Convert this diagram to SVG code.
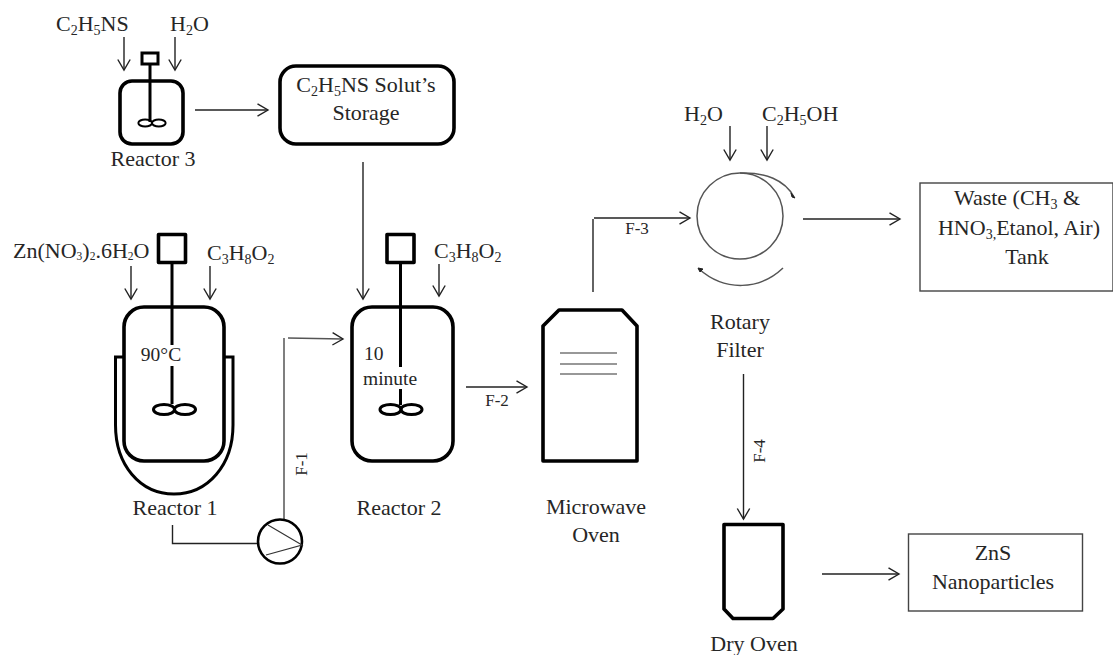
<svg xmlns="http://www.w3.org/2000/svg" width="1113" height="655" viewBox="0 0 1113 655">
<style>
text{font-family:"Liberation Serif","Times New Roman",serif;font-size:22px;fill:#262626}
.m{text-anchor:middle}
.s{font-size:14px}
.t{font-size:11.500px}
.f{font-size:17px}
.n{font-size:19.500px}
.v{fill:none;stroke:#000;stroke-width:3.6;stroke-linejoin:round}
.w{fill:none;stroke:#000;stroke-width:3}
.c{fill:none;stroke:#222;stroke-width:1.4}
.a{marker-end:url(#h)}
.g{fill:none;stroke:#555;stroke-width:1.5}
.p{fill:none;stroke:#000;stroke-width:3}
</style>
<defs>
<marker id="h" markerUnits="userSpaceOnUse" markerWidth="14" markerHeight="16" refX="12" refY="7" orient="auto">
<path d="M1.500 0.800L12 7L1.500 13.200" fill="none" stroke="#222" stroke-width="1.4"/>
</marker>
<g id="paddle"><ellipse cx="-10.500" cy="0" rx="10.500" ry="5"/><ellipse cx="10.500" cy="0" rx="10.500" ry="5"/></g>
</defs>
<g id="connectors">
<path class="c a" d="M124 37V70"/>
<path class="c a" d="M175 37V70"/>
<path class="c a" d="M195 110H268"/>
<path class="c a" d="M363 162V299"/>
<path class="c a" d="M131 266V299"/>
<path class="c a" d="M210 266V299"/>
<path class="c a" d="M439 264V296"/>
<path class="c" d="M172.500 525V543.500H258"/>
<path class="g" d="M284 519V338"/>
<path class="g a" d="M288 338L343 339"/>
<path class="c a" d="M466 387H527"/>
<path class="c" d="M593 292V219"/>
<path class="c a" d="M594 218H690"/>
<path class="c a" d="M730 126V160"/>
<path class="c a" d="M767 126V160"/>
<path class="c a" d="M803 219H900"/>
<path class="c a" d="M743.500 374V519"/>
<path class="c a" d="M822 574H899"/>
</g>
<g id="c2h5ns-feed"><text x="56" y="31">C<tspan class="s" dy="4">2</tspan><tspan dy="-4">H</tspan><tspan class="s" dy="4">5</tspan><tspan dy="-4">NS</tspan></text></g>
<g id="h2o-feed"><text x="170" y="31">H<tspan class="s" dy="4">2</tspan><tspan dy="-4">O</tspan></text></g>
<g id="reactor-3">
<rect class="w" x="142" y="53" width="16" height="11"/>
<path class="w" d="M150 64V122"/>
<rect class="v" x="120" y="81" width="63" height="63" rx="12"/>
<use href="#paddle" class="p" transform="translate(152 123) scale(.65 .7)"/>
<text class="m" x="153" y="166">Reactor 3</text>
</g>
<g id="storage">
<rect class="v" x="280" y="66" width="174" height="78" rx="16"/>
<text class="m" x="366" y="92">C<tspan class="s" dy="4">2</tspan><tspan dy="-4">H</tspan><tspan class="s" dy="4">5</tspan><tspan dy="-4">NS Solut’s</tspan></text>
<text class="m" x="366" y="120">Storage</text>
</g>
<g id="reactor-1">
<text x="13" y="258">Zn(NO<tspan class="t" dy="2">3</tspan><tspan dy="-2">)</tspan><tspan class="t" dy="2">2</tspan><tspan dy="-2">.6H</tspan><tspan class="t" dy="2">2</tspan><tspan dy="-2">O</tspan></text>
<text x="207" y="260">C<tspan class="s" dy="4">3</tspan><tspan dy="-4">H</tspan><tspan class="s" dy="4">8</tspan><tspan dy="-4">O</tspan><tspan class="s" dy="4">2</tspan></text>
<rect class="v" x="158.500" y="234.500" width="27" height="28"/>
<path class="w" d="M172 263V345M172 366V404"/>
<rect class="v" x="124" y="307" width="100" height="154" rx="20"/>
<path class="w" d="M124 357H115.500V425C115.500 465 140 494 174 494C208 494 233 465 233 425V357H224"/>
<use href="#paddle" class="p" transform="translate(174.500 409.500)"/>
<text class="m n" x="161" y="361">90°C</text>
<text class="m" x="175" y="515">Reactor 1</text>
</g>
<g id="pump">
<circle cx="280" cy="541.500" r="22" fill="none" stroke="#000" stroke-width="2.600"/>
<path d="M268 525L302 545L266 555" fill="none" stroke="#333" stroke-width="1.200"/>
<text class="f" transform="translate(307 464) rotate(-90)" text-anchor="middle">F-1</text>
</g>
<g id="reactor-2">
<text x="434" y="258">C<tspan class="s" dy="4">3</tspan><tspan dy="-4">H</tspan><tspan class="s" dy="4">8</tspan><tspan dy="-4">O</tspan><tspan class="s" dy="4">2</tspan></text>
<rect class="v" x="387" y="234.500" width="27" height="28"/>
<path class="w" d="M400.500 263V367M400.500 389V405"/>
<rect class="v" x="352" y="307" width="101" height="154" rx="20"/>
<use href="#paddle" class="p" transform="translate(401 409.500)"/>
<text class="n" x="364" y="360">10</text>
<text class="n" x="363" y="385">minute</text>
<text class="m" x="399" y="515">Reactor 2</text>
</g>
<g id="f2-label"><text class="f m" x="497" y="406">F-2</text></g>
<g id="microwave-oven">
<path class="v" d="M559 310H622L637 326V461H543V326Z"/>
<path d="M560 353H617M560 364H617M560 374H617" fill="none" stroke="#333" stroke-width="1.200"/>
<text class="m" x="596" y="514">Microwave</text>
<text class="m" x="596" y="542">Oven</text>
</g>
<g id="f3-label"><text class="f m" x="637" y="234">F-3</text></g>
<g id="rotary-filter">
<text x="684" y="121">H<tspan class="s" dy="4">2</tspan><tspan dy="-4">O</tspan></text>
<text x="762" y="121">C<tspan class="s" dy="4">2</tspan><tspan dy="-4">H</tspan><tspan class="s" dy="4">5</tspan><tspan dy="-4">OH</tspan></text>
<circle class="g" cx="740" cy="216" r="43"/>
<path class="g" d="M740 173C765 172 785 180 794 197"/>
<path d="M791 193L795 198L792 197Z" fill="#222" stroke="#222"/>
<path class="g" d="M699 269C725 292 760 290 783 268"/>
<path d="M698 268L703 269L700 272Z" fill="#222" stroke="#222"/>
<text class="m" x="740" y="329">Rotary</text>
<text class="m" x="740" y="357">Filter</text>
</g>
<g id="waste-tank">
<rect x="920" y="183" width="193" height="108" fill="none" stroke="#444" stroke-width="1.400"/>
<text class="m" x="1017" y="205">Waste (CH<tspan class="s" dy="4">3</tspan><tspan dy="-4"> &amp;</tspan></text>
<text class="m" x="1019" y="235">HNO<tspan class="s" dy="4">3,</tspan><tspan dy="-4">Etanol, Air)</tspan></text>
<text class="m" x="1027" y="264">Tank</text>
</g>
<g id="f4-label"><text class="f" transform="translate(765 451) rotate(-90)" text-anchor="middle">F-4</text></g>
<g id="dry-oven">
<path class="v" d="M724 524.500H783V609L773 618.500H733L724 609Z"/>
<text class="m" x="754" y="651">Dry Oven</text>
</g>
<g id="zns">
<rect x="908.500" y="534" width="174" height="77" fill="none" stroke="#444" stroke-width="1.400"/>
<text class="m" x="993" y="560">ZnS</text>
<text class="m" x="993" y="589">Nanoparticles</text>
</g>
</svg>
